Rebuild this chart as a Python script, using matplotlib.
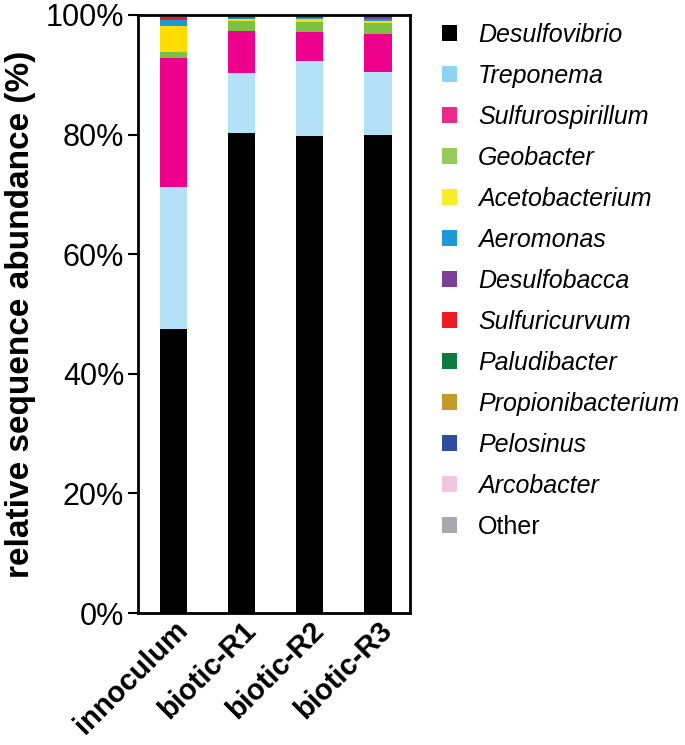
import matplotlib
matplotlib.use("Agg")
import matplotlib.pyplot as plt
from matplotlib.patches import Patch
import numpy as np

plt.rcParams['font.family'] = ['Liberation Sans', 'DejaVu Sans']

samples = ["innoculum", "biotic-R1", "biotic-R2", "biotic-R3"]
taxa = ["Desulfovibrio", "Treponema", "Sulfurospirillum", "Geobacter", "Acetobacterium",
        "Aeromonas", "Desulfobacca", "Sulfuricurvum", "Paludibacter", "Propionibacterium",
        "Pelosinus", "Arcobacter", "Other"]
colors = ["#000000", "#B3E1F8", "#EC008C", "#7DC142", "#FFDD00",
          "#1B9AD6", "#7F3F98", "#ED1C24", "#1B7F3E", "#C49A2C",
          "#2E4DA0", "#F2C6DE", "#A7A9AC"]
legend_colors = ["#000000", "#8ED2F3", "#EE2A89", "#97C95C", "#F6EB2C",
                 "#1B9AD6", "#7F3F98", "#ED1C24", "#0E7A3D", "#C49A2C",
                 "#2E4DA0", "#F2C6DE", "#A7A9AC"]

desulfovibrio = [47.5, 80.3, 79.8, 79.9]
treponema = [23.7, 10.0, 12.5, 10.6]
sulfurospirillum = [21.6, 7.0, 4.9, 6.3]
geobacter = [1.0, 1.7, 1.6, 1.9]
acetobacterium = [4.4, 0.3, 0.5, 0.2]
aeromonas = [1.0, 0.1, 0.1, 0.4]
desulfobacca = [0.05, 0.1, 0.1, 0.2]
sulfuricurvum = [0.3, 0.1, 0.1, 0.2]
paludibacter = [0.05, 0.05, 0.05, 0.05]
propionibacterium = [0.05, 0.2, 0.1, 0.05]
pelosinus = [0.05, 0.05, 0.05, 0.2]
arcobacter = [0.05, 0.05, 0.05, 0.05]
other = [0.25, 0.15, 0.25, 0.25]

series = [desulfovibrio, treponema, sulfurospirillum, geobacter, acetobacterium,
          aeromonas, desulfobacca, sulfuricurvum, paludibacter, propionibacterium,
          pelosinus, arcobacter, other]

fig = plt.figure(figsize=(6.85, 7.45), dpi=100)
ax = fig.add_axes([0.2015, 0.177, 0.397, 0.803])

x = np.arange(len(samples))
bottom = np.zeros(len(samples))
for vals, c in zip(series, colors):
    vals = np.array(vals)
    ax.bar(x, vals, width=0.4, bottom=bottom, color=c, edgecolor='none')
    bottom += vals

ax.set_xlim(-0.52, 3.47)
ax.set_ylim(0, 100)
ax.set_yticks([0, 20, 40, 60, 80, 100])
ax.set_yticklabels([f"{v}%" for v in [0, 20, 40, 60, 80, 100]], fontsize=22)
ax.tick_params(axis='y', direction='out', length=7, width=1.5, pad=3)
ax.set_xticks(x)
ax.set_xticklabels(samples, fontsize=21, fontweight='bold', rotation=45,
                   ha='right', va='top', rotation_mode='anchor')
ax.tick_params(axis='x', length=0, pad=2)
for s in ax.spines.values():
    s.set_linewidth(2)
ax.set_ylabel("relative sequence abundance (%)", fontsize=24, fontweight='bold', labelpad=7)

handles = [Patch(facecolor=c, edgecolor='none') for c in legend_colors]
leg = fig.legend(handles, taxa, loc='upper left', bbox_to_anchor=(0.612, 0.999),
                 frameon=False, fontsize=18, handlelength=0.6, handleheight=0.6,
                 handletextpad=0.85, labelspacing=0.68)
for t in leg.get_texts()[:-1]:
    t.set_fontstyle('italic')

fig.savefig("out.png", dpi=100)
